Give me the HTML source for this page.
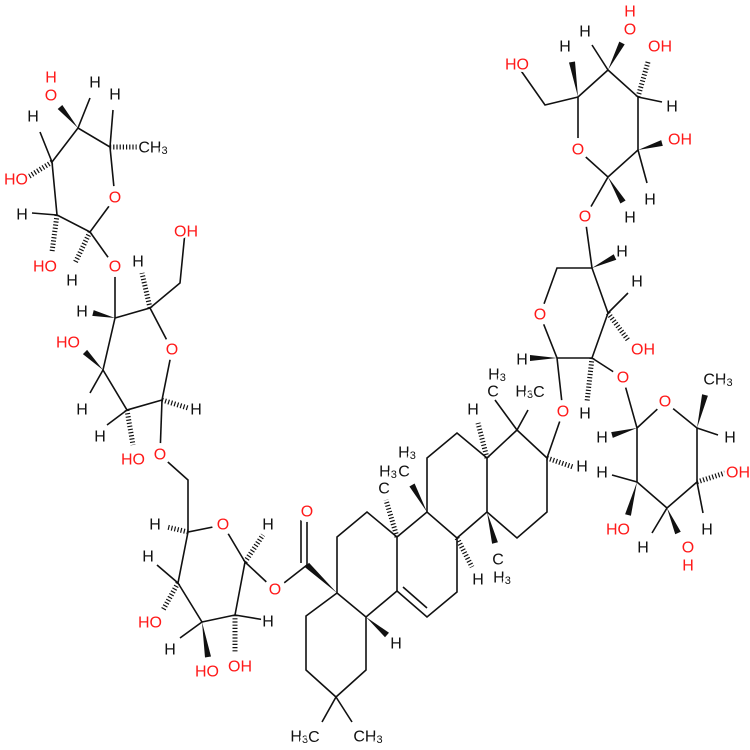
<!DOCTYPE html>
<html><head><meta charset="utf-8"><style>
html,body{margin:0;padding:0;background:#fff}
svg{display:block}
text{font-family:"Liberation Sans",sans-serif;font-size:16px;text-anchor:middle;paint-order:stroke;stroke:#fff;stroke-width:5px;stroke-linejoin:round}
text.o{stroke-width:11px}
.r{fill:#ff1a1a}.k{fill:#111}
.b line,.b polyline{stroke:#111;stroke-width:1.6;fill:none}
.h{stroke:#111;stroke-width:5;stroke-dasharray:1.2 2}
polygon{fill:#111}
</style></head><body>
<svg width="750" height="750" viewBox="0 0 750 750" xmlns="http://www.w3.org/2000/svg">
<g class="b">
<polyline points="115,198 90,232 57,215 52,162 78,128 110,147 115,198"/>
<line x1="90" y1="232" x2="115" y2="267"/>
<line x1="57" y1="215" x2="32" y2="213"/>
<line x1="52" y1="162" x2="40" y2="132"/>
<line x1="78" y1="128" x2="90" y2="98"/>
<line x1="110" y1="147" x2="113" y2="110"/>
<line x1="115" y1="267" x2="115" y2="318"/>
<polyline points="115,318 150,308 172,350 162,400 127,410 103,370 115,318"/>
<polyline points="150,308 180,283 185,232"/>
<line x1="162" y1="400" x2="160" y2="455"/>
<line x1="103" y1="370" x2="90" y2="393"/>
<line x1="127" y1="410" x2="107" y2="425"/>
<polyline points="160,455 188,480 188,532 223,525 245,562 235,615 202,622 178,583 188,532"/>
<line x1="245" y1="562" x2="275" y2="590"/>
<line x1="235" y1="615" x2="265" y2="620"/>
<line x1="202" y1="622" x2="180" y2="638"/>
<line x1="178" y1="583" x2="157" y2="565"/>
<line x1="275" y1="590" x2="307" y2="565"/>
<line x1="307" y1="565" x2="307" y2="512"/>
<line x1="301" y1="563" x2="301" y2="514"/>
<polyline points="337,593 306,616 306,670 336,697 366,670 366,617 337,593 337,537 367,512 397,537 397,591 366,617"/>
<polyline points="397,537 427,512 457,538 457,592 427,617 397,591"/>
<line x1="403" y1="587" x2="427" y2="608"/>
<polyline points="427,512 427,458 457,433 487,458 487,512 457,538"/>
<polyline points="487,458 517,430 547,458 547,512 517,538 487,512"/>
<line x1="336" y1="697" x2="322" y2="722"/>
<line x1="336" y1="697" x2="352" y2="722"/>
<line x1="517" y1="430" x2="495" y2="400"/>
<line x1="517" y1="430" x2="528" y2="410"/>
<line x1="547" y1="458" x2="563" y2="412"/>
<polyline points="563,412 557,358 540,315 557,268 592,268 608,313 592,358 557,358"/>
<line x1="592" y1="268" x2="585" y2="217"/>
<line x1="608" y1="313" x2="628" y2="293"/>
<line x1="592" y1="358" x2="623" y2="378"/>
<polyline points="585,217 608,177 578,150 578,97 608,70 638,97 638,150 608,177"/>
<polyline points="578,97 545,105 517,65"/>
<line x1="608" y1="70" x2="592" y2="45"/>
<line x1="638" y1="97" x2="662" y2="102"/>
<line x1="638" y1="150" x2="647" y2="183"/>
<polyline points="623,378 637,428 665,402 697,428 697,482 667,508 637,482 637,428"/>
<line x1="697" y1="428" x2="718" y2="435"/>
<line x1="697" y1="482" x2="703" y2="513"/>
<line x1="667" y1="508" x2="652" y2="533"/>
<line x1="637" y1="482" x2="612" y2="475"/>
</g>
<g>
<line class="h" x1="90" y1="232" x2="75" y2="263"/>
<line class="h" x1="57" y1="215" x2="52" y2="252"/>
<line class="h" x1="52" y1="162" x2="28" y2="177"/>
<line class="h" x1="110" y1="147" x2="137" y2="147"/>
<line class="h" x1="150" y1="308" x2="142" y2="273"/>
<line class="h" x1="162" y1="400" x2="188" y2="408"/>
<line class="h" x1="127" y1="410" x2="133" y2="445"/>
<line class="h" x1="245" y1="562" x2="263" y2="535"/>
<line class="h" x1="235" y1="615" x2="235" y2="653"/>
<line class="h" x1="178" y1="583" x2="163" y2="610"/>
<line class="h" x1="188" y1="532" x2="167" y2="527"/>
<line class="h" x1="397" y1="537" x2="386" y2="500"/>
<line class="h" x1="457" y1="538" x2="472" y2="567"/>
<line class="h" x1="487" y1="458" x2="478" y2="423"/>
<line class="h" x1="547" y1="458" x2="573" y2="467"/>
<line class="h" x1="608" y1="313" x2="628" y2="340"/>
<line class="h" x1="592" y1="358" x2="587" y2="402"/>
<line class="h" x1="638" y1="97" x2="648" y2="62"/>
<line class="h" x1="697" y1="482" x2="725" y2="473"/>
</g>
<polygon points="78,128 62.3,105 57.7,109"/>
<polygon points="115,318 93.7,310.1 92.3,315.9"/>
<polygon points="103,370 87.1,349.9 82.9,354.1"/>
<polygon points="202,622 205,657.5 211,656.5"/>
<polygon points="337,593 309,562.8 305,567.2"/>
<polygon points="366,617 385,637.2 389,632.8"/>
<polygon points="427,512 414.6,483.5 409.4,486.5"/>
<polygon points="487,512 492.1,543.75 497.9,542.25"/>
<polygon points="592,268 616.3,259.7 613.7,254.3"/>
<polygon points="557,358 530,355 530,361"/>
<polygon points="578,97 575,61.5 569,62.5"/>
<polygon points="608,70 624.7,44.4 619.3,41.6"/>
<polygon points="638,150 662.8,145.9 661.2,140.1"/>
<polygon points="608,177 620.4,203.5 625.6,200.5"/>
<polygon points="637,428 611.2,432.1 612.8,437.9"/>
<polygon points="697,428 707.9,395.7 702.1,394.3"/>
<polygon points="667,508 675.25,534.2 680.75,531.8"/>
<polygon points="637,482 625.1,514.2 630.9,515.8"/>
<g dominant-baseline="central">
<text class="r o" x="115" y="198">O</text>
<text class="r o" x="115" y="267">O</text>
<text class="k" x="72" y="281">H</text>
<text class="r" x="45" y="267">HO</text>
<text class="k" x="22" y="215">H</text>
<text class="r" x="16" y="180">HO</text>
<text class="k" x="33" y="117">H</text>
<text class="r o" x="51" y="96">O</text>
<text class="r" x="51" y="78">H</text>
<text class="k" x="95" y="83">H</text>
<text class="k" x="115" y="95">H</text>
<text class="k" x="153" y="148">CH<tspan font-size="11" dy="3">3</tspan></text>

<text class="r o" x="172" y="350">O</text>
<text class="r" x="186" y="232">OH</text>
<text class="k" x="138" y="262">H</text>
<text class="k" x="82" y="312">H</text>
<text class="r" x="68" y="343">HO</text>
<text class="k" x="82" y="410">H</text>
<text class="k" x="196" y="410">H</text>
<text class="k" x="100" y="437">H</text>
<text class="r" x="133" y="460">HO</text>
<text class="r o" x="160" y="455">O</text>

<text class="r o" x="223" y="525">O</text>
<text class="r o" x="275" y="590">O</text>
<text class="r o" x="307" y="512">O</text>
<text class="k" x="268" y="525">H</text>
<text class="k" x="268" y="622">H</text>
<text class="r" x="240" y="667">OH</text>
<text class="r" x="207" y="672">HO</text>
<text class="k" x="170" y="650">H</text>
<text class="r" x="150" y="623">HO</text>
<text class="k" x="148" y="557">H</text>
<text class="k" x="155" y="525">H</text>

<text class="k" x="305" y="737">H<tspan font-size="11" dy="3">3</tspan><tspan dy="-3">C</tspan></text>
<text class="k" x="368" y="737">CH<tspan font-size="11" dy="3">3</tspan></text>
<text class="k" x="396" y="644">H</text>
<text class="k" x="384" y="489">C</text>
<text class="k" x="388" y="472">H<tspan font-size="11" dy="3">3</tspan></text>
<text class="k" x="404" y="472">C</text>
<text class="k" x="407" y="453">H<tspan font-size="11" dy="3">3</tspan></text>
<text class="k" x="478" y="580">H</text>
<text class="k" x="473" y="410">H</text>
<text class="k" x="498" y="560">C</text>
<text class="k" x="502" y="578">H<tspan font-size="11" dy="3">3</tspan></text>
<text class="k" x="493" y="392">C</text>
<text class="k" x="497" y="375">H<tspan font-size="11" dy="3">3</tspan></text>
<text class="k" x="530" y="392">H<tspan font-size="11" dy="3">3</tspan><tspan dy="-3">C</tspan></text>
<text class="k" x="582" y="467">H</text>

<text class="r o" x="563" y="412">O</text>
<text class="r o" x="540" y="315">O</text>
<text class="r o" x="585" y="217">O</text>
<text class="r o" x="623" y="378">O</text>
<text class="k" x="622" y="252">H</text>
<text class="k" x="637" y="282">H</text>
<text class="r" x="643" y="350">OH</text>
<text class="k" x="522" y="360">H</text>
<text class="k" x="585" y="414">H</text>

<text class="r o" x="578" y="150">O</text>
<text class="r" x="517" y="65">HO</text>
<text class="k" x="565" y="47">H</text>
<text class="k" x="585" y="32">H</text>
<text class="r o" x="630" y="30">O</text>
<text class="r" x="630" y="12">H</text>
<text class="r" x="660" y="47">OH</text>
<text class="k" x="672" y="107">H</text>
<text class="r" x="680" y="140">OH</text>
<text class="k" x="650" y="200">H</text>
<text class="k" x="630" y="218">H</text>

<text class="r o" x="665" y="402">O</text>
<text class="k" x="602" y="438">H</text>
<text class="k" x="718" y="380">CH<tspan font-size="11" dy="3">3</tspan></text>
<text class="k" x="730" y="438">H</text>
<text class="r" x="738" y="473">OH</text>
<text class="k" x="707" y="530">H</text>
<text class="r o" x="688" y="548">O</text>
<text class="r" x="688" y="566">H</text>
<text class="k" x="643" y="548">H</text>
<text class="r" x="618" y="530">HO</text>
<text class="k" x="602" y="473">H</text>
</g>
</svg>
</body></html>
